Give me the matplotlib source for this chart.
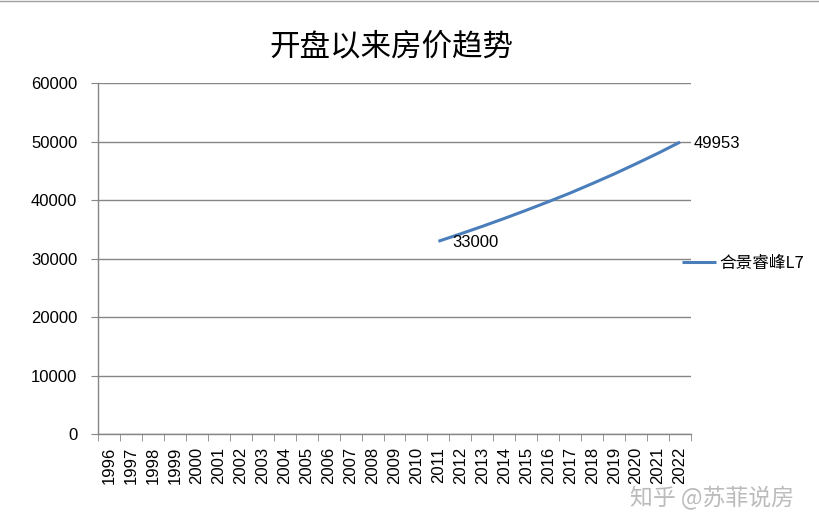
import matplotlib.pyplot as plt
from matplotlib.lines import Line2D

years = [str(y) for y in range(1996, 2023)]
price_years = [str(y) for y in range(2011, 2023)]
prices = [33000, 34250, 35550, 36900, 38300, 39750, 41250, 42850, 44500, 46250, 48050, 49953]
series_name = '合景睿峰L7'
title = '开盘以来房价趋势'
watermark = '知乎 @苏菲说房'

cjk = ['Noto Sans CJK SC', 'DejaVu Sans']
num_font = 'Liberation Sans'
line_color = '#4a7ebb'
grid_color = '#868686'

fig = plt.figure(figsize=(8.2, 5.21), dpi=100)
ax = fig.add_axes([0.1195, 0.1664, 0.7232, 0.6737])

xs = [years.index(y) for y in price_years]
ax.plot(xs, prices, color=line_color, linewidth=2.2, solid_capstyle='butt', label=series_name)

# data labels on first and last point
for i in (0, len(prices) - 1):
    ax.annotate(str(prices[i]), (xs[i], prices[i]), xytext=(10, -1), textcoords='offset points',
                ha='left', va='center', fontsize=12, family=num_font)

ax.set_xlim(-0.5, len(years) - 0.5)
ax.set_ylim(0, 60000)
ax.set_yticks(range(0, 60001, 10000))
ax.set_yticklabels([str(v) for v in range(0, 60001, 10000)], fontsize=12, family=num_font)
ax.set_xticks(range(len(years)))
ax.set_xticklabels(years, rotation=90, fontsize=12, family=num_font)
ax.set_xticks([i - 0.5 for i in range(len(years) + 1)], minor=True)
ax.tick_params(axis='x', which='major', length=0, pad=9)
ax.tick_params(axis='x', which='minor', length=5, color=grid_color, direction='out')
ax.tick_params(axis='y', length=5, color=grid_color, direction='out', pad=10)

ax.grid(axis='y', color=grid_color, linewidth=1)
ax.set_axisbelow(True)
for s in ('top', 'right'):
    ax.spines[s].set_visible(False)
for s in ('left', 'bottom'):
    ax.spines[s].set_color(grid_color)
    ax.spines[s].set_linewidth(1)

fig.text(0.477, 0.91, title, ha='center', va='center', fontsize=22, family=cjk)

fig.legend(loc='center left', bbox_to_anchor=(0.832, 0.495), frameon=False, borderpad=0,
           borderaxespad=0, handlelength=2.0, handletextpad=0.25, prop={'family': cjk, 'size': 12})

fig.text(0.868, 0.044, watermark, ha='center', va='center', fontsize=16.5, family=cjk,
         color='#b4b4b4', alpha=0.9)

# thin border at the top of the screenshot
fig.add_artist(Line2D([0, 1], [0.999, 0.999], transform=fig.transFigure, color='#a0a0a0', linewidth=1))

fig.savefig('out.png', dpi=100)
